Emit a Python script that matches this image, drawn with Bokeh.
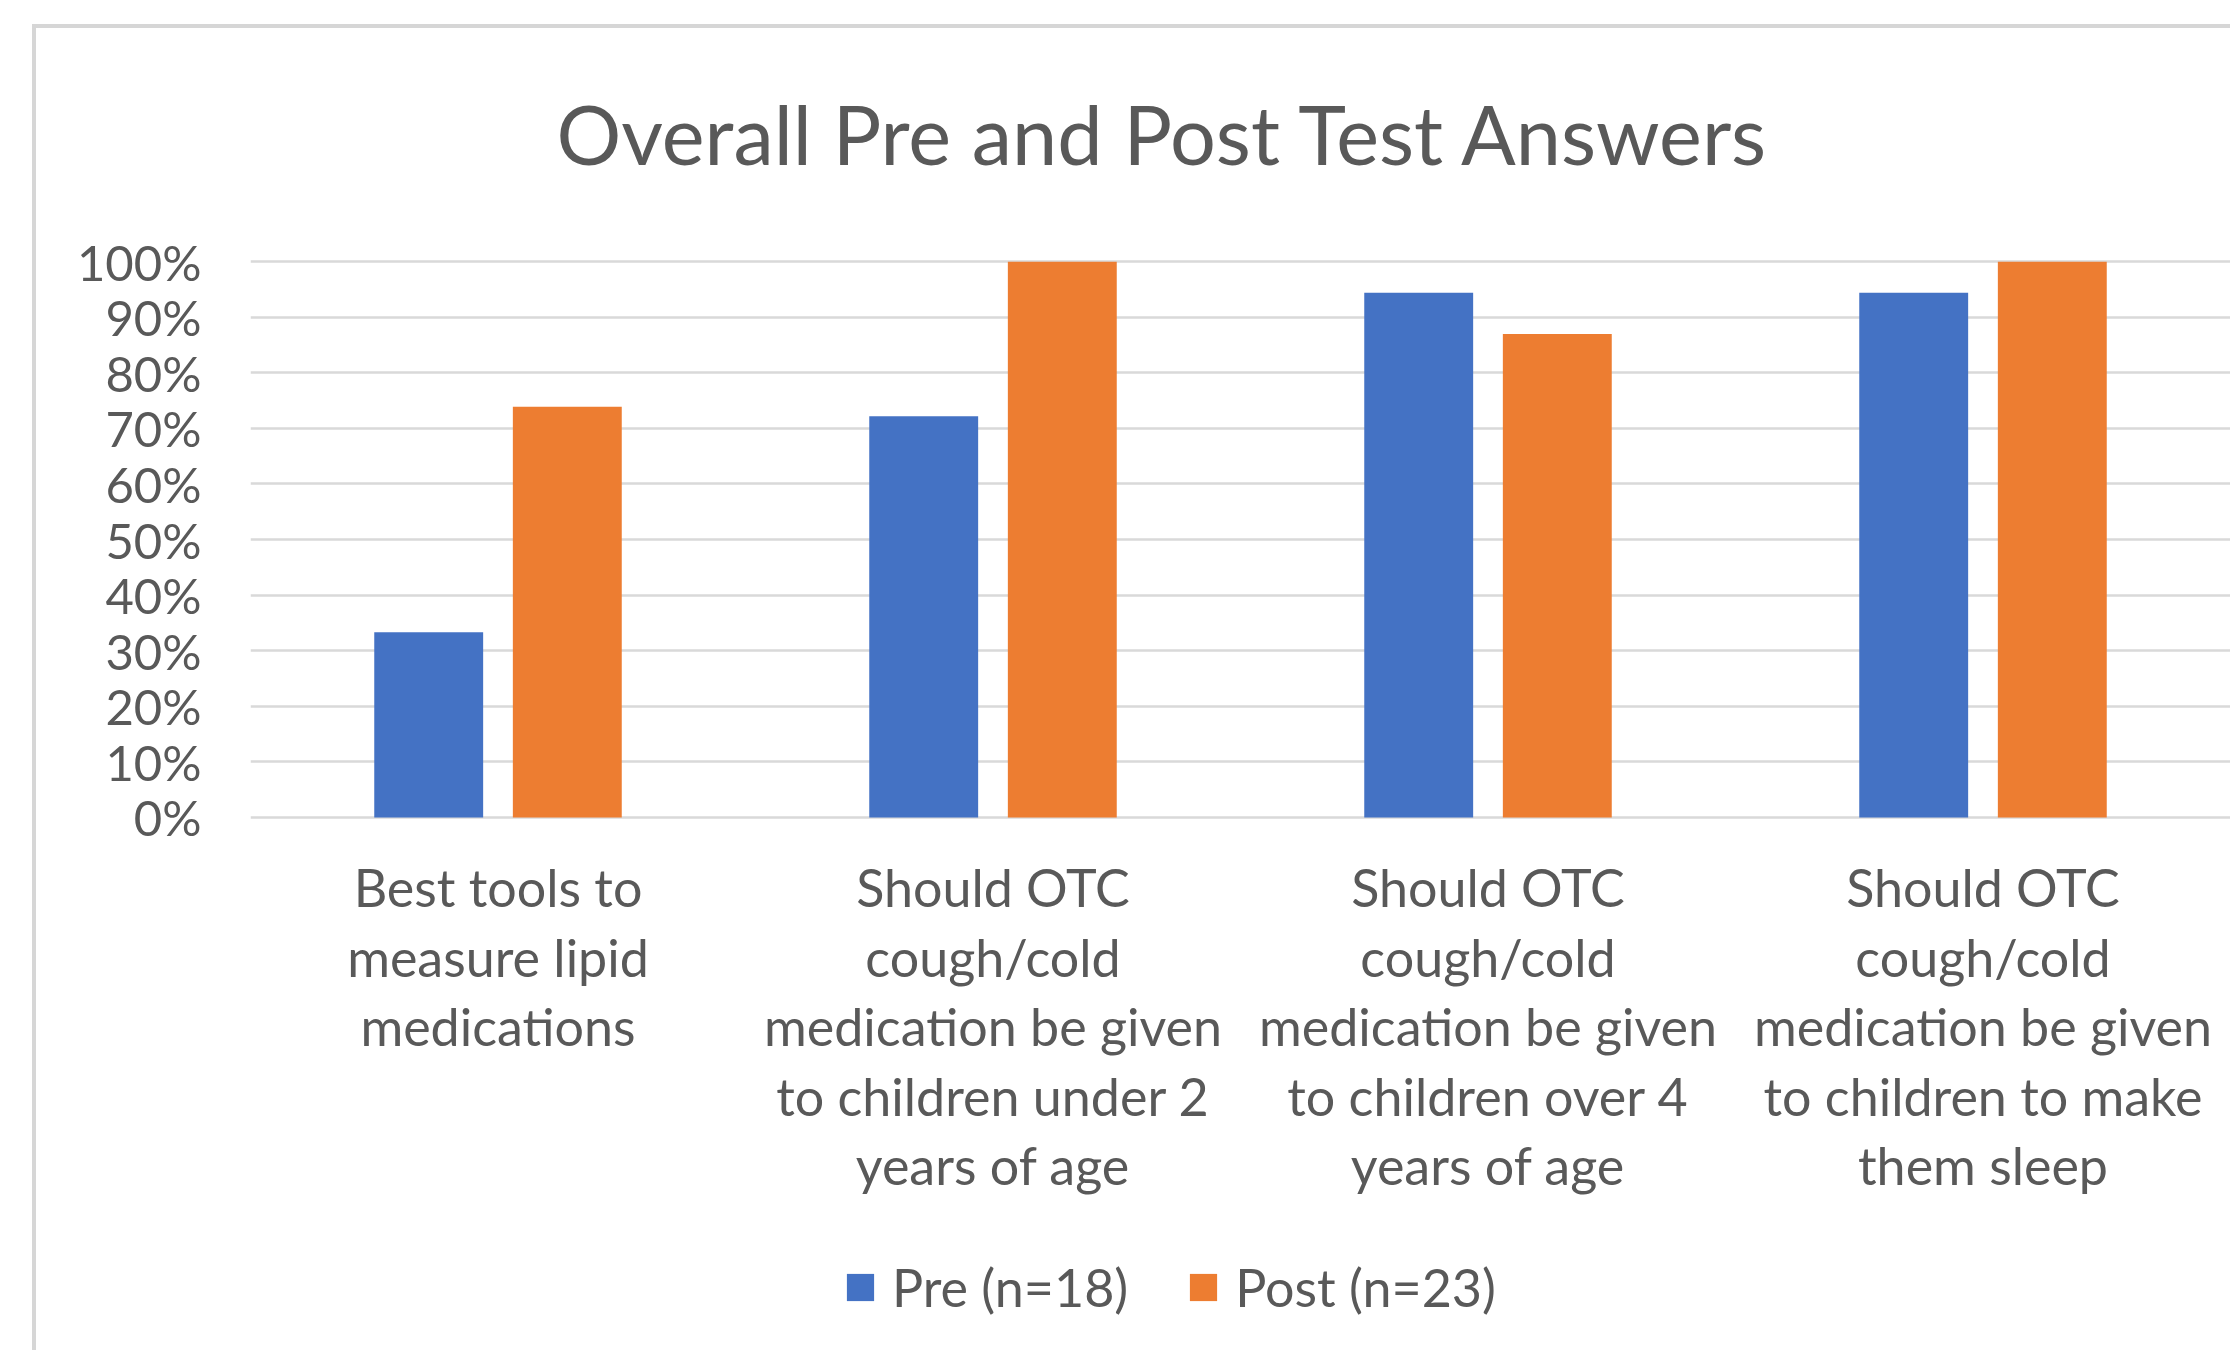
from bokeh.plotting import figure
from bokeh.models import FactorRange, Range1d, FixedTicker, NumeralTickFormatter, ColumnDataSource, InlineStyleSheet
from bokeh.transform import dodge
from bokeh.core.properties import value
from bokeh.embed import file_html
from bokeh.resources import INLINE

# ---- data ----
categories = [
    "Best tools to\nmeasure lipid\nmedications",
    "Should OTC\ncough/cold\nmedication be given\nto children under 2\nyears of age",
    "Should OTC\ncough/cold\nmedication be given\nto children over 4\nyears of age",
    "Should OTC\ncough/cold\nmedication be given\nto children to make\nthem sleep",
]
pre_values = [0.333, 0.722, 0.944, 0.944]
post_values = [0.739, 1.0, 0.870, 1.0]
series_names = ["Pre (n=18)", "Post (n=23)"]
y_ticks = [0.0, 0.1, 0.2, 0.3, 0.4, 0.5, 0.6, 0.7, 0.8, 0.9, 1.0]
title_text = "Overall Pre and Post Test Answers"

BLUE = "#4472C4"
ORANGE = "#ED7D31"
TEXT = "#595959"
GRID = "#D9D9D9"
FONT = "Lato"

source = ColumnDataSource(dict(
    cat=categories,
    pre=pre_values,
    post=post_values,
    base=[0.0] * len(categories),
))

p = figure(
    x_range=FactorRange(factors=categories, range_padding=0.0),
    y_range=Range1d(-0.959, 1.074),
    width=2230, height=1350,
    output_backend="svg", toolbar_location=None,
    min_border_left=250, min_border_right=0, min_border_top=220, min_border_bottom=0,
)

# top/left edge of the Excel chart box (decorative frame line)
p.stylesheets = [InlineStyleSheet(css="""
:host::after {
  content: "";
  position: absolute;
  left: 32px; top: 24px; right: 0px; bottom: 0px;
  border-left: 4px solid #D6D6D6;
  border-top: 4px solid #D6D6D6;
  pointer-events: none;
}
""")]

p.vbar(x=dodge("cat", -0.14, range=p.x_range), top="pre", bottom=0, width=0.22,
       source=source, color=BLUE, line_color=None, legend_label=series_names[0])
p.vbar(x=dodge("cat", 0.14, range=p.x_range), top="post", bottom=0, width=0.22,
       source=source, color=ORANGE, line_color=None, legend_label=series_names[1])

# category labels (multi-line) under the baseline
p.text(x="cat", y="base", text="cat", source=source,
       text_align="center", text_baseline="top", y_offset=39,
       text_font=value(FONT), text_font_size="52px", text_color=TEXT,
       text_line_height=1.12)

# axes
p.xaxis.visible = False
p.yaxis.ticker = FixedTicker(ticks=y_ticks)
p.yaxis.formatter = NumeralTickFormatter(format="0%")
p.yaxis.axis_line_color = None
p.yaxis.major_tick_line_color = None
p.yaxis.minor_tick_line_color = None
p.yaxis.major_label_standoff = 43
p.yaxis.major_label_text_font = FONT
p.yaxis.major_label_text_font_size = "49px"
p.yaxis.major_label_text_color = TEXT

p.xgrid.visible = False
p.ygrid.ticker = FixedTicker(ticks=y_ticks)
p.ygrid.grid_line_color = GRID
p.ygrid.grid_line_width = 2.5

p.outline_line_color = None
p.background_fill_color = "white"
p.border_fill_color = "white"

# title
p.title.text = title_text
p.title.text_font = FONT
p.title.text_font_size = "81px"
p.title.text_font_style = "normal"
p.title.text_color = TEXT
p.title.align = "left"
p.title.offset = 306
p.title.standoff = 78

# legend
lg = p.legend[0]
lg.orientation = "horizontal"
lg.location = (593, 32)
lg.glyph_width = 34
lg.glyph_height = 34
lg.label_text_font = FONT
lg.label_text_font_size = "52px"
lg.label_text_color = TEXT
lg.label_standoff = 15
lg.spacing = 58
lg.padding = 0
lg.margin = 0
lg.border_line_color = None
lg.background_fill_alpha = 0

open("out.html", "w").write(file_html(p, INLINE))
